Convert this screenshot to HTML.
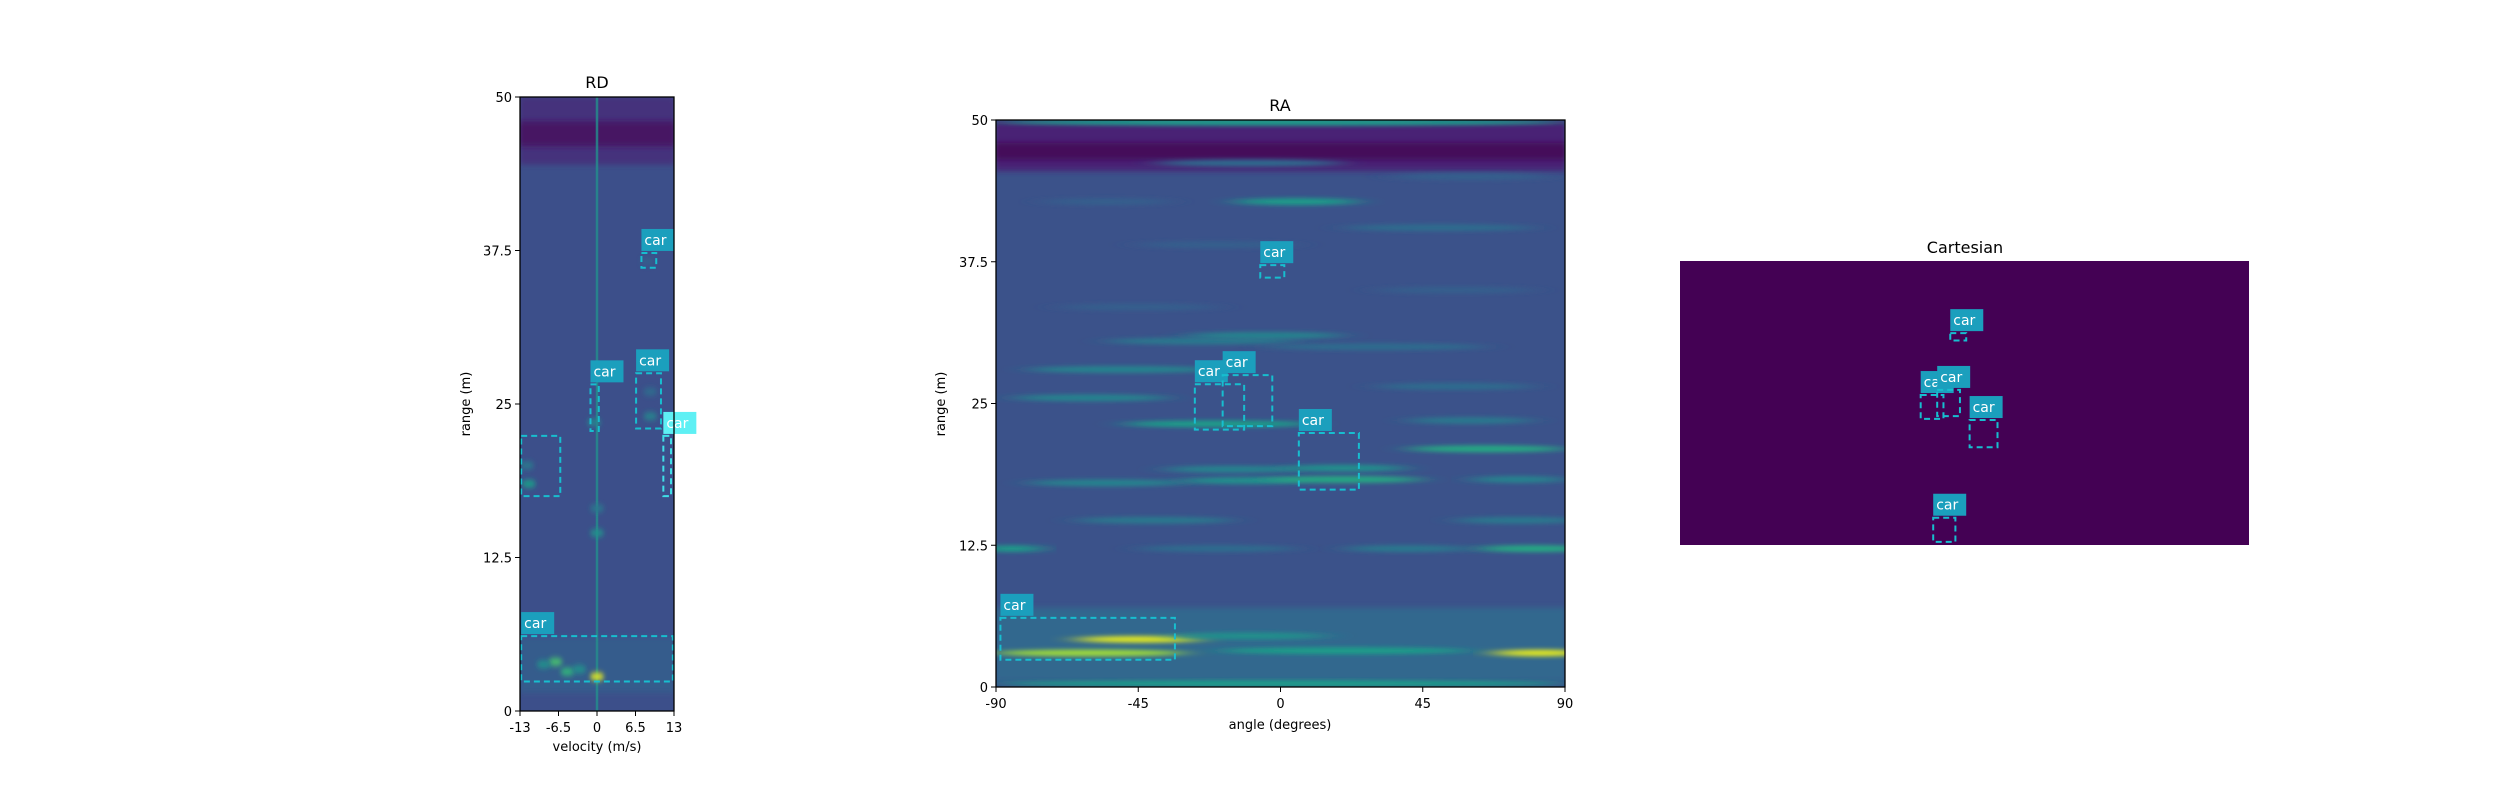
<!DOCTYPE html>
<html><head><meta charset="utf-8">
<style>
html,body{margin:0;padding:0;background:#fff;}
svg{display:block;font-family:"DejaVu Sans","Liberation Sans",sans-serif;}
</style></head>
<body>
<svg id="fig" width="2500" height="800" viewBox="0 0 2500 800" xmlns="http://www.w3.org/2000/svg">
<defs>
<filter id="blurH" x="-20%" y="-200%" width="140%" height="500%"><feGaussianBlur stdDeviation="14 2"/></filter>
<filter id="blurS" x="-100%" y="-100%" width="300%" height="300%"><feGaussianBlur stdDeviation="2 3"/></filter>
<filter id="blurV" x="-50%" y="-10%" width="200%" height="120%"><feGaussianBlur stdDeviation="0.6 0"/></filter>
<clipPath id="clipRD"><rect x="520" y="97" width="154" height="614"/></clipPath>
<clipPath id="clipRA"><rect x="996" y="120" width="569" height="567"/></clipPath>
</defs>
</svg>
<script>
// ---------- data ----------
const rdBoxes = [ // [vMin, vMax, rMin, rMax, labelled, bright]
  [-12.8, -6.2, 17.5, 22.4, 0, 0],
  [-1.1, 0.3, 22.8, 26.6, 1, 0],
  [6.6, 10.8, 23.0, 27.5, 1, 0],
  [11.2, 12.5, 17.5, 22.4, 1, 1],
  [7.5, 10.0, 36.1, 37.3, 1, 0],
  [-12.8, 12.8, 2.4, 6.1, 1, 0]
];
const raBoxes = [ // [aMin, aMax, rMin, rMax]
  [-6.4, 1.2, 36.1, 37.2],
  [-27.1, -11.5, 22.7, 26.7],
  [-18.3, -2.6, 23.0, 27.5],
  [5.8, 24.8, 17.4, 22.4],
  [-88.6, -33.4, 2.4, 6.1]
];
const cartBoxes = [ // [xMin, xMax, yMin, yMax]
  [-2.5, 0.3, 36.0, 37.3],
  [-7.7, -3.7, 22.2, 26.4],
  [-4.8, -0.8, 22.7, 27.3],
  [0.9, 5.8, 17.2, 22.0],
  [-5.5, -1.6, 0.55, 4.8]
];
const rdHotspots = [ // [velocity, range, intensity]
  [-11.5, 18.5, 0.55],[-11.8, 20, 0.4],[0, 14.5, 0.5],[0, 16.5, 0.4],[0, 2.8, 0.95],
  [-7, 4, 0.7],[-5, 3.2, 0.65],[-9, 3.8, 0.5],[-3, 3.4, 0.5],[9, 24, 0.45],[9, 26, 0.35],[-0.5, 23.5, 0.45],[8.5, 36.6, 0.3]
];
const raStreaks = [ // [angleCenter, angleHalfWidth, range, intensity]
  [-60, 30, 3.0, 0.85],[-45, 20, 4.2, 0.95],[82, 15, 3.0, 0.95],[20, 40, 3.2, 0.55],[-10, 25, 4.5, 0.5],
  [0, 90, 0.3, 0.55],[-85, 10, 12.2, 0.55],[80, 18, 12.2, 0.6],[40, 20, 12.2, 0.4],[-20, 25, 12.2, 0.35],
  [-40, 25, 14.7, 0.4],[75, 20, 14.7, 0.4],[-55, 25, 18.0, 0.45],[-12, 20, 18.2, 0.5],[20, 25, 18.3, 0.6],[75, 15, 18.3, 0.45],
  [-15, 22, 19.2, 0.45],[20, 20, 19.3, 0.5],[65, 25, 21.0, 0.6],[-20, 30, 23.2, 0.55],[60, 20, 23.5, 0.4],
  [-60, 25, 25.5, 0.45],[55, 25, 26.5, 0.35],[-50, 30, 28.0, 0.45],[-25, 30, 30.5, 0.4],[30, 35, 30.0, 0.35],
  [-5, 25, 31.0, 0.45],[-45, 25, 33.5, 0.3],[55, 25, 35.0, 0.3],[-20, 25, 39.0, 0.3],[50, 30, 40.5, 0.35],
  [5, 20, 42.8, 0.55],[-55, 20, 42.8, 0.3],[60, 25, 45.0, 0.3],[-10, 30, 46.2, 0.35],[0, 90, 49.8, 0.55]
];
const rdYTicks = [0, 12.5, 25, 37.5, 50];
const rdXTicks = [-13, -6.5, 0, 6.5, 13];
const raYTicks = [0, 12.5, 25, 37.5, 50];
const raXTicks = [-90, -45, 0, 45, 90];

// ---------- helpers ----------
const NS = "http://www.w3.org/2000/svg";
const svg = document.getElementById('fig');
function el(tag, attrs, parent){ const e=document.createElementNS(NS,tag); for(const k in attrs) e.setAttribute(k,attrs[k]); (parent||svg).appendChild(e); return e; }
const VIR=[[68,1,84],[72,40,120],[62,74,137],[49,104,142],[38,130,142],[31,158,137],[53,183,121],[109,205,89],[180,222,44],[253,231,37]];
function viridis(t){ t=Math.max(0,Math.min(1,t))*9; const i=Math.min(8,Math.floor(t)), f=t-i; const a=VIR[i],b=VIR[i+1];
  return 'rgb('+a.map((v,k)=>Math.round(v+(b[k]-v)*f)).join(',')+')'; }

// ---------- axes ----------
const RD={x0:520,x1:674,y0:97,y1:711,vmin:-13,vmax:13};
const rdX=v=>RD.x0+(v-RD.vmin)/(RD.vmax-RD.vmin)*(RD.x1-RD.x0);
const rdY=r=>RD.y1-r/50*(RD.y1-RD.y0);
const RA={x0:996,x1:1565,y0:120,y1:687};
const raX=a=>RA.x0+(a+90)/180*(RA.x1-RA.x0);
const raY=r=>RA.y1-r/50*(RA.y1-RA.y0);
const CA={x0:1680,x1:2249,y0:261,y1:545};
const caX=x=>CA.x0+(x+50)/100*(CA.x1-CA.x0);
const caY=y=>CA.y1-y/50*(CA.y1-CA.y0);

function drawBox(g,x0,x1,yTop,yBot,name,labelled,bright){
  const r=el('rect',{x:x0,y:yTop,width:x1-x0,height:yBot-yTop,fill:'none',stroke:bright?'#3fe0e8':'#17becf','stroke-width':2,'stroke-dasharray':'6,4'},g);
  
  
  if(labelled){
    const lg=el('g',{},g);
    
    
    el('rect',{x:x0,y:yTop-24,width:33,height:22,fill:bright?'#5ef0f4':'#1b9fbd'},lg);
    const t=el('text',{x:x0+3,y:yTop-8,'font-size':14,fill:'#fff'},lg); t.textContent='car';
  }
}
function axesFrame(x0,y0,x1,y1,name){
  const r=el('rect',{x:x0,y:y0,width:x1-x0,height:y1-y0,fill:'none',stroke:'#000','stroke-width':1.3});
   
}
function text(x,y,s,size,anchor,name,rot){
  const t=el('text',{x:x,y:y,'font-size':size,'text-anchor':anchor||'middle',fill:'#000'});
  if(rot) t.setAttribute('transform','rotate(-90 '+x+' '+y+')');
  t.textContent=s;   return t;
}

// ---------- RD panel ----------
const gRD=el('g',{'clip-path':'url(#clipRD)'});
 
el('rect',{x:RD.x0,y:RD.y0,width:154,height:614,fill:viridis(0.24)},gRD);
el('rect',{x:RD.x0,y:rdY(50),width:154,height:rdY(44.5)-rdY(50),fill:viridis(0.14),filter:'url(#blurS)'},gRD);
el('rect',{x:RD.x0,y:rdY(48),width:154,height:rdY(46)-rdY(48),fill:viridis(0.05),filter:'url(#blurS)'},gRD);
el('rect',{x:RD.x0,y:rdY(6),width:154,height:rdY(1.5)-rdY(6),fill:viridis(0.29),filter:'url(#blurS)'},gRD);
el('rect',{x:rdX(0)-1,y:RD.y0,width:2,height:614,fill:viridis(0.5),filter:'url(#blurV)'},gRD);
rdHotspots.forEach((h,i)=>{
  const e=el('ellipse',{cx:rdX(h[0]),cy:rdY(h[1]),rx:7,ry:4,fill:viridis(h[2]),filter:'url(#blurS)'},gRD);
   
});
rdBoxes.forEach((b,i)=>drawBox(svg,rdX(b[0]),rdX(b[1]),rdY(b[3]),rdY(b[2]),'rd-box-'+i,b[4],b[5]));
axesFrame(RD.x0,RD.y0,RD.x1,RD.y1,'rd-axes');
rdYTicks.forEach(v=>{ el('line',{x1:RD.x0-5,x2:RD.x0,y1:rdY(v),y2:rdY(v),stroke:'#000'}); text(RD.x0-8,rdY(v)+5,String(v),13,'end','rd-y-tick'); });
rdXTicks.forEach(v=>{ el('line',{x1:rdX(v),x2:rdX(v),y1:RD.y1,y2:RD.y1+5,stroke:'#000'}); text(rdX(v),RD.y1+21,String(v),13,'middle','rd-x-tick'); });
text(597,88,'RD',16,'middle','rd-title');
text(597,751,'velocity (m/s)',13,'middle','rd-x-axis-title');
text(470,404,'range (m)',13,'middle','rd-y-axis-title',true);

// ---------- RA panel ----------
const gRA=el('g',{'clip-path':'url(#clipRA)'});
 
el('rect',{x:RA.x0,y:RA.y0,width:569,height:567,fill:viridis(0.25)},gRA);
el('rect',{x:RA.x0,y:raY(50),width:569,height:raY(45.5)-raY(50),fill:viridis(0.1),filter:'url(#blurS)'},gRA);
el('rect',{x:RA.x0,y:raY(48),width:569,height:raY(46.5)-raY(48),fill:viridis(0.02),filter:'url(#blurS)'},gRA);
el('rect',{x:RA.x0,y:raY(7),width:569,height:raY(0.5)-raY(7),fill:viridis(0.33),filter:'url(#blurS)'},gRA);
raStreaks.forEach(s=>{
  const e=el('ellipse',{cx:raX(s[0]),cy:raY(s[2]),rx:s[1]/180*569,ry:3.5,fill:viridis(s[3]),filter:'url(#blurH)'},gRA);
   
});
raBoxes.forEach((b,i)=>drawBox(svg,raX(b[0]),raX(b[1]),raY(b[3]),raY(b[2]),'ra-box-'+i,1,0));
axesFrame(RA.x0,RA.y0,RA.x1,RA.y1,'ra-axes');
raYTicks.forEach(v=>{ el('line',{x1:RA.x0-5,x2:RA.x0,y1:raY(v),y2:raY(v),stroke:'#000'}); text(RA.x0-8,raY(v)+5,String(v),13,'end','ra-y-tick'); });
raXTicks.forEach(v=>{ el('line',{x1:raX(v),x2:raX(v),y1:RA.y1,y2:RA.y1+5,stroke:'#000'}); text(raX(v),RA.y1+21,String(v),13,'middle','ra-x-tick'); });
text(1280,111,'RA',16,'middle','ra-title');
text(1280,729,'angle (degrees)',13,'middle','ra-x-axis-title');
text(945,404,'range (m)',13,'middle','ra-y-axis-title',true);

// ---------- Cartesian panel ----------
const bg=el('rect',{x:CA.x0,y:CA.y0,width:CA.x1-CA.x0,height:CA.y1-CA.y0,fill:'#440154'});
 
cartBoxes.forEach((b,i)=>drawBox(svg,caX(b[0]),caX(b[1]),caY(b[3]),caY(b[2]),'cartesian-box-'+i,1,0));
text(1965,253,'Cartesian',16,'middle','cartesian-title');
</script>
</body></html>
